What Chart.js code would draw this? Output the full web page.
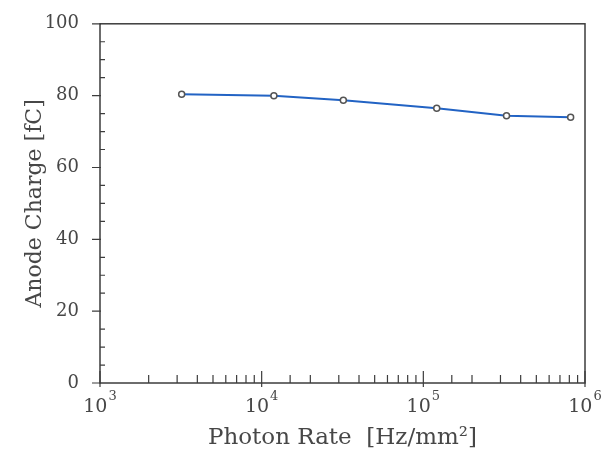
<!DOCTYPE html>
<html>
<head>
<meta charset="utf-8">
<script src="https://cdn.jsdelivr.net/npm/chart.js@4"></script>
<style>
html, body { margin: 0; padding: 0; background: #fff; }
#wrap { width: 608px; height: 454px; }
</style>
</head>
<body>
<div id="wrap"><canvas id="rate" width="608" height="454"></canvas></div>
<script>
var photonRate = [3200, 11900, 32000, 121000, 327000, 815000];
var anodeCharge = [80.4, 80.0, 78.7, 76.5, 74.4, 74.0];
var xDecades = [1e3, 1e4, 1e5, 1e6];
var yLabels = [0, 20, 40, 60, 80, 100];

var axisColor = '#3c3c3c';
var textColor = '#474747';
var serif = '"DejaVu Serif", serif';

// box + inward ticks + 10^n labels
var frameTicks = {
    id: 'frameTicks',
    beforeDatasetsDraw: function (chart) {
        var ctx = chart.ctx, a = chart.chartArea;
        var xs = chart.scales.x, ys = chart.scales.y;
        ctx.save();
        ctx.strokeStyle = axisColor;
        ctx.lineWidth = 1.5;
        ctx.strokeRect(a.left, a.top, a.right - a.left, a.bottom - a.top);
        ctx.lineWidth = 1.2;
        ctx.beginPath();
        xs.ticks.forEach(function (t) {
            var px = xs.getPixelForValue(t.value);
            var major = xDecades.indexOf(t.value) >= 0;
            ctx.moveTo(px, a.bottom + (major ? 4 : 0));
            ctx.lineTo(px, a.bottom - (major ? 12 : 8));
        });
        ys.ticks.forEach(function (t) {
            var py = ys.getPixelForValue(t.value);
            if (yLabels.indexOf(t.value) >= 0) {
                ctx.moveTo(a.left - 8, py);
                ctx.lineTo(a.left + 1, py);
            } else {
                ctx.moveTo(a.left, py);
                ctx.lineTo(a.left + 5, py);
            }
        });
        ctx.stroke();

        ctx.fillStyle = textColor;
        ctx.textBaseline = 'alphabetic';
        ctx.textAlign = 'left';
        xDecades.forEach(function (v) {
            var px = xs.getPixelForValue(v);
            var exp = String(Math.round(Math.log10(v)));
            ctx.font = '19px ' + serif;
            var w1 = ctx.measureText('10').width;
            ctx.font = '13px ' + serif;
            var w2 = ctx.measureText(exp).width;
            var x0 = px - (w1 + w2 + 1) / 2;
            ctx.font = '19px ' + serif;
            ctx.fillText('10', x0, a.bottom + 29);
            ctx.font = '13px ' + serif;
            ctx.fillText(exp, x0 + w1 + 1, a.bottom + 17);
        });
        ctx.restore();
    }
};

var ctx = document.getElementById('rate').getContext('2d');
var myChart = new Chart(ctx, {
    type: 'line',
    data: {
        datasets: [{
            label: 'Anode Charge',
            data: photonRate.map(function (x, i) { return { x: x, y: anodeCharge[i] }; }),
            borderColor: '#2263c4',
            borderWidth: 2,
            pointRadius: 3,
            pointBackgroundColor: '#fff',
            pointBorderColor: '#555',
            pointBorderWidth: 1.5,
            tension: 0
        }]
    },
    options: {
        responsive: false,
        animation: false,
        layout: { padding: { top: 22, right: 23, left: 0, bottom: 0 } },
        plugins: {
            legend: { display: false },
            tooltip: { enabled: false }
        },
        scales: {
            x: {
                type: 'logarithmic',
                min: 1000,
                max: 1000000,
                grid: { display: false },
                border: { display: false },
                ticks: { display: false, autoSkip: false },
                title: {
                    display: true,
                    text: 'Photon Rate  [Hz/mm²]',
                    color: textColor,
                    font: { family: serif, size: 23 },
                    padding: { top: 0, bottom: 2 }
                },
                afterFit: function (scale) { scale.height = 71; }
            },
            y: {
                min: 0,
                max: 100,
                grid: { display: false },
                border: { display: false },
                ticks: {
                    stepSize: 5,
                    autoSkip: false,
                    padding: 13,
                    color: textColor,
                    font: { family: serif, size: 18 },
                    callback: function (v) { return yLabels.indexOf(v) >= 0 ? v : ''; }
                },
                title: {
                    display: true,
                    text: 'Anode Charge [fC]',
                    color: textColor,
                    font: { family: serif, size: 22 },
                    padding: { top: 22, bottom: 0 }
                },
                afterFit: function (scale) { scale.width = 100; }
            }
        }
    },
    plugins: [frameTicks]
});
</script>
</body>
</html>
